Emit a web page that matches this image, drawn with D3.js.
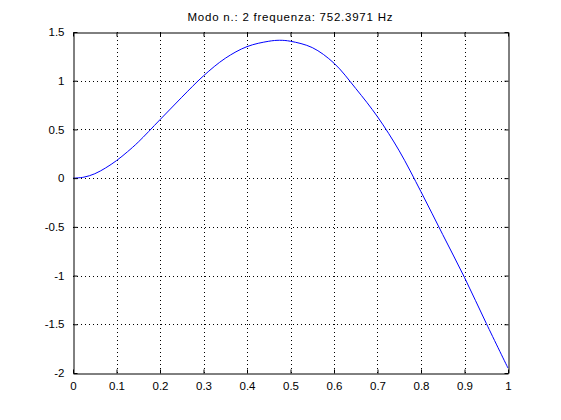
<!DOCTYPE html>
<html>
<head>
<meta charset="utf-8">
<script src="https://cdn.jsdelivr.net/npm/d3@7"></script>
<style>
  html, body { margin: 0; padding: 0; background: #fff; }
  svg text { font-family: "Liberation Sans", Arial, sans-serif; fill: #000; }
</style>
</head>
<body>
<svg id="chart" width="561" height="420"></svg>
<script>
const titleText = "Modo n.: 2 frequenza: 752.3971 Hz";
const xValues = [0, 0.025, 0.05, 0.075, 0.1, 0.125, 0.15, 0.2, 0.25, 0.3, 0.35, 0.4, 0.45, 0.475, 0.5, 0.55, 0.6, 0.65, 0.7, 0.75, 0.8, 0.85, 0.9, 0.95, 1.0];
const yValues = [0, 0.01, 0.045, 0.105, 0.18, 0.27, 0.37, 0.60, 0.83, 1.05, 1.23, 1.35, 1.405, 1.415, 1.405, 1.34, 1.18, 0.92, 0.63, 0.28, -0.14, -0.58, -1.02, -1.49, -1.95];
const xTicks = [0, 0.1, 0.2, 0.3, 0.4, 0.5, 0.6, 0.7, 0.8, 0.9, 1];
const yTicks = [-2, -1.5, -1, -0.5, 0, 0.5, 1, 1.5];

const svg = d3.select("#chart");
const L = 73, R = 508, T = 32, B = 373;
const x = d3.scaleLinear().domain([0, 1]).range([L, R]);
const y = d3.scaleLinear().domain([-2, 1.5]).range([B, T]);
const tl = 4;

// grid
const g = svg.append("g");
g.selectAll(".gx").data(xTicks.slice(1, -1)).join("line")
  .attr("x1", d => Math.round(x(d)) + 0.5).attr("x2", d => Math.round(x(d)) + 0.5)
  .attr("y1", T).attr("y2", B)
  .attr("stroke", "#000").attr("stroke-width", 1).attr("stroke-dasharray", "1,3");
g.selectAll(".gy").data(yTicks.slice(1, -1)).join("line")
  .attr("y1", d => Math.round(y(d)) + 0.5).attr("y2", d => Math.round(y(d)) + 0.5)
  .attr("x1", L).attr("x2", R)
  .attr("stroke", "#000").attr("stroke-width", 1).attr("stroke-dasharray", "1,3");

// curve
const pts = xValues.map((v, i) => [v, yValues[i]]);
svg.append("path").datum(pts)
  .attr("d", d3.line().x(d => x(d[0])).y(d => y(d[1])).curve(d3.curveCatmullRom.alpha(0.5)))
  .attr("fill", "none").attr("stroke", "#0000ff").attr("stroke-width", 1);

// axes
const fmt = d => String(d);
const xAxisB = d3.axisBottom(x).tickValues(xTicks).tickFormat(fmt).tickSizeInner(-tl).tickSizeOuter(0).tickPadding(8);
const xAxisT = d3.axisTop(x).tickValues(xTicks).tickFormat("").tickSizeInner(-tl).tickSizeOuter(0);
const yAxisL = d3.axisLeft(y).tickValues(yTicks).tickFormat(fmt).tickSizeInner(-tl).tickSizeOuter(0).tickPadding(9);
const yAxisR = d3.axisRight(y).tickValues(yTicks).tickFormat("").tickSizeInner(-tl).tickSizeOuter(0);

function style(sel) {
  sel.selectAll("path").attr("stroke", "#000").attr("stroke-width", 1);
  sel.selectAll("line").attr("stroke", "#000").attr("stroke-width", 1);
  sel.selectAll("text").attr("font-size", "11.5px").attr("fill", "#000");
}
svg.append("g").attr("transform", `translate(0,${B + 0.5})`).call(xAxisB).call(style);
svg.append("g").attr("transform", `translate(0,${T + 0.5})`).call(xAxisT).call(style);
svg.append("g").attr("transform", `translate(${L + 0.5},0)`).call(yAxisL).call(style);
svg.append("g").attr("transform", `translate(${R + 0.5},0)`).call(yAxisR).call(style);

// title
svg.append("text").attr("x", (L + R) / 2 - 0.5).attr("y", 21)
  .attr("text-anchor", "middle").attr("font-size", "11.5px")
  .attr("textLength", 205).attr("lengthAdjust", "spacing").text(titleText);
</script>
</body>
</html>
